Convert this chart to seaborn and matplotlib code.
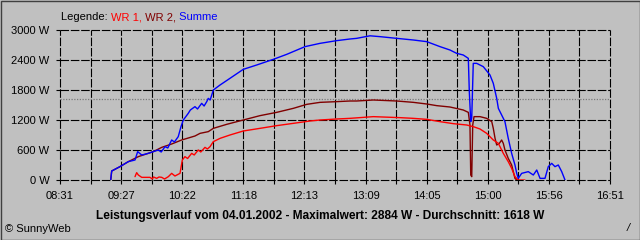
import matplotlib
matplotlib.use("Agg")
import matplotlib.pyplot as plt
import seaborn as sns
import pandas as pd
from matplotlib.patches import Rectangle

# ---- data (x = minutes after 08:31, y = W) ----
sum_t = [46.1, 47.0, 54.5, 62.1, 68.2, 70.6, 74.3, 80.3, 84.8, 89.4, 92.0, 95.5, 98.0, 101.5,
         104.0, 107.5, 110.0, 112.1, 116.6, 118.5, 122.7, 125.0, 128.8, 131.0, 133.4, 134.8,
         136.5, 139.4, 145.5, 154.5, 166.6, 178.8, 193.9, 206.1, 222.7, 236.4, 251.5, 263.6,
         269.7, 281.8, 290.9, 306.1, 321.2, 333.4, 345.5, 354.5, 360.6, 366.6, 371.2, 372.1,
         373.4, 374.3, 375.7, 378.8, 384.8, 390.9, 393.9, 397.0, 398.5, 401.5, 404.5, 407.5,
         410.6, 413.6, 415.2, 416.6, 419.7, 425.7, 430.3, 433.4, 436.4, 440.9, 443.9, 447.0,
         450.0, 453.0, 456.1, 459.1]
sum_w = [0, 180, 267, 367, 400, 567, 500, 533, 567, 600, 560, 667, 640, 800,
         760, 867, 1067, 1200, 1333, 1400, 1467, 1420, 1533, 1480, 1567, 1633,
         1600, 1800, 1900, 2033, 2213, 2300, 2413, 2513, 2667, 2733, 2787, 2820,
         2833, 2884, 2867, 2833, 2800, 2767, 2667, 2600, 2533, 2500, 2433, 1767,
         1167, 1240, 2333, 2333, 2267, 2100, 1933, 1633, 1433, 1300, 1167, 833,
         533, 300, 133, 33, 133, 167, 100, 200, 33, 33, 267, 333,
         267, 300, 167, 0]

wr2_t = [46.1, 47.0, 54.5, 62.1, 71.2, 84.8, 92.5, 101.5, 110.6, 122.7, 127.3, 134.8, 139.4,
         151.5, 166.6, 181.8, 197.0, 212.1, 224.3, 236.4, 251.5, 263.6, 269.7, 284.8, 306.1,
         321.2, 333.4, 342.5, 354.5, 366.6, 371.2, 372.7, 373.4, 374.3, 375.2, 376.4, 381.8,
         387.9, 392.5, 393.9, 395.5, 397.0, 399.4, 401.5, 403.0, 404.5, 407.5, 410.6, 412.1,
         413.6, 415.2]
wr2_w = [0, 180, 267, 367, 467, 567, 653, 720, 800, 880, 933, 967, 1033,
         1113, 1200, 1287, 1353, 1433, 1513, 1553, 1567, 1580, 1580, 1600, 1580,
         1553, 1520, 1487, 1460, 1400, 1353, 1100, 100, 67, 1100, 1267, 1267,
         1233, 1167, 1033, 833, 700, 733, 800, 733, 600, 433, 300, 167,
         33, 0]

wr1_t = [68.2, 69.7, 71.2, 74.3, 81.8, 84.0, 85.0, 87.9, 90.0, 92.5, 95.0, 98.5, 101.5, 104.5,
         109.1, 111.2, 113.6, 116.0, 119.7, 122.0, 125.7, 128.0, 131.8, 134.0, 136.4, 139.4,
         145.5, 154.5, 166.6, 181.8, 197.0, 212.1, 227.3, 236.4, 251.5, 263.6, 284.8, 309.1,
         321.2, 333.4, 345.5, 357.5, 369.7, 375.7, 381.8, 387.9, 393.9, 398.5, 403.0, 407.5,
         410.6, 413.6, 416.6, 422.7]
wr1_w = [67, 147, 100, 53, 53, 20, 60, 33, 60, 53, 20, 67, 133, 80,
         133, 400, 467, 430, 533, 500, 600, 560, 653, 620, 667, 767,
         833, 900, 980, 1033, 1087, 1133, 1180, 1200, 1220, 1233, 1267, 1247,
         1233, 1213, 1167, 1127, 1100, 1067, 1020, 933, 800, 733, 533, 367,
         233, 67, 0, 0]

mean_w = 1618
y_ticks = [0, 600, 1200, 1800, 2400, 3000]
y_labels = ["0 W", "600 W", "1200 W", "1800 W", "2400 W", "3000 W"]
x_labels = ["08:31", "09:27", "10:22", "11:18", "12:13", "13:09", "14:05", "15:00", "15:56", "16:51"]
x_span = 500.0

BG = "#C0C0C0"
C_WR1 = "#FF0000"
C_WR2 = "#800000"
C_SUM = "#0000FF"

sns.set_style("white")
plt.rcParams["font.family"] = ["Liberation Sans", "DejaVu Sans"]

fig = plt.figure(figsize=(6.4, 2.4), dpi=100, facecolor=BG)
ax = fig.add_axes([60 / 640, 1 - 180 / 240, 550 / 640, 150 / 240])
ax.set_facecolor(BG)

df1 = pd.DataFrame({"t": wr1_t, "w": wr1_w})
df2 = pd.DataFrame({"t": wr2_t, "w": wr2_w})
dfs = pd.DataFrame({"t": sum_t, "w": sum_w})

ax.axhline(mean_w, color="#7a7a7a", lw=0.9, ls=(0, (1, 1.2)), zorder=1.5)
sns.lineplot(data=df2, x="t", y="w", ax=ax, color=C_WR2, lw=1.0, zorder=3, sort=False)
sns.lineplot(data=df1, x="t", y="w", ax=ax, color=C_WR1, lw=1.0, zorder=3.2, sort=False)
sns.lineplot(data=dfs, x="t", y="w", ax=ax, color=C_SUM, lw=1.0, zorder=3.4, sort=False)

ax.set_xlim(0, x_span)
ax.set_ylim(0, 3000)
ax.set_xlabel("")
ax.set_ylabel("")
for s in ax.spines.values():
    s.set_visible(False)

major = [i * x_span / 9 for i in range(10)]
minor = [(i + 0.5) * x_span / 9 for i in range(9)]
ax.set_xticks(major)
ax.set_xticklabels(x_labels)
ax.set_xticks(minor, minor=True)
ax.set_yticks(y_ticks)
ax.set_yticklabels(y_labels)

ax.tick_params(axis="both", which="both", length=3, width=0.8, color="black",
               labelsize=8, labelcolor="black", direction="out")
ax.tick_params(axis="x", which="both", pad=5, bottom=True)
ax.tick_params(axis="y", pad=4.5, left=True)

dash = (0, (7.7, 1.6))
ax.grid(True, which="both", axis="x", color="black", lw=0.8, ls=dash)
ax.grid(True, which="major", axis="y", color="black", lw=0.8, ls=dash)
ax.set_axisbelow(True)
for tk in ax.xaxis.get_major_ticks() + ax.xaxis.get_minor_ticks() + ax.yaxis.get_major_ticks():
    tk.gridline.set_clip_on(False)

# legend text (coloured words)
fig.canvas.draw()
renderer = fig.canvas.get_renderer()
parts = [("Legende: ", "black"), ("WR 1,", C_WR1), (" WR 2,", C_WR2), (" Summe", C_SUM)]
x = 61 / 640
for txt, col in parts:
    t = fig.text(x, 1 - 17 / 240, txt, color=col, fontsize=8, va="center", ha="left")
    bb = t.get_window_extent(renderer=renderer)
    x += bb.width / 640

fig.text(320 / 640, 1 - 216 / 240,
         "Leistungsverlauf vom 04.01.2002 - Maximalwert: 2884 W - Durchschnitt: 1618 W",
         fontsize=8.6, fontweight="bold", ha="center", va="center", color="black")
fig.text(5 / 640, 1 - 229 / 240, "\u00a9 SunnyWeb", fontsize=8, ha="left", va="center", color="black")
fig.text(628 / 640, 1 - 228 / 240, "/", fontsize=8, style="italic", ha="center", va="center", color="black")

fig.patches.append(Rectangle((0.5 / 640, 0.5 / 240), 639 / 640, 239 / 240, transform=fig.transFigure,
                             fill=False, edgecolor="#404040", lw=1.0))

fig.savefig("out.png", dpi=100, facecolor=BG)
